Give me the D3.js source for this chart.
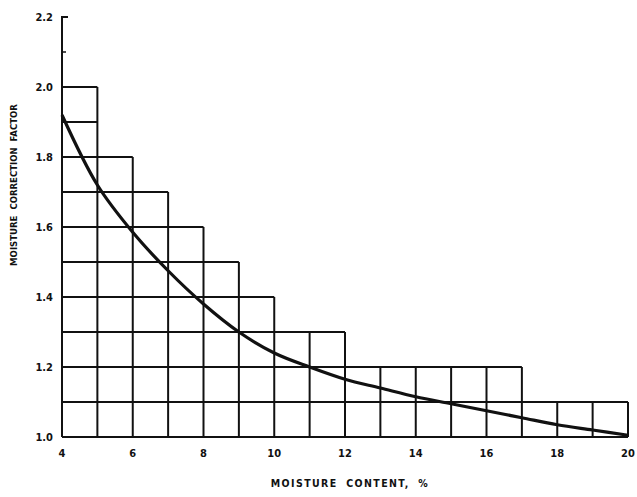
<!DOCTYPE html>
<html>
<head>
<meta charset="utf-8">
<script src="https://cdn.jsdelivr.net/npm/d3@7"></script>
<style>
  body { margin: 0; background: #fff; }
  text { font-family: "DejaVu Sans Condensed", "DejaVu Sans", sans-serif; font-weight: bold; fill: #111; }
</style>
</head>
<body>
<svg id="chart"></svg>
<script>
// step columns (left edge, top value)
const colStart = [4, 5, 6, 7, 8, 9, 10, 11, 12, 13, 14, 15, 16, 17, 18, 19];
const colTop = [2.0, 1.8, 1.7, 1.6, 1.5, 1.4, 1.3, 1.3, 1.2, 1.2, 1.2, 1.2, 1.2, 1.1, 1.1, 1.1];

// correction factor curve
const curveX = [4, 5, 6, 7, 8, 9, 10, 11, 12, 13, 14, 15, 16, 17, 18, 19, 20];
const curveY = [1.92, 1.72, 1.585, 1.475, 1.38, 1.30, 1.24, 1.20, 1.165, 1.14, 1.115, 1.095, 1.075, 1.055, 1.035, 1.02, 1.005];

const xTicks = [4, 6, 8, 10, 12, 14, 16, 18, 20];
const yTicks = [1.0, 1.2, 1.4, 1.6, 1.8, 2.0, 2.2];
const gridLevels = [1.0, 1.1, 1.2, 1.3, 1.4, 1.5, 1.6, 1.7, 1.8, 1.9, 2.0];

const w = 637, h = 497;
const svg = d3.select("#chart").attr("width", w).attr("height", h);

const x = d3.scaleLinear().domain([4, 20]).range([62, 628]);
const y = d3.scaleLinear().domain([1.0, 2.2]).range([437, 17]);

const g = svg.append("g").attr("stroke", "#111").attr("stroke-width", 2).attr("fill", "none");

// horizontal grid lines, each reaching to the last column tall enough
gridLevels.forEach((L) => {
  let right = 4;
  colStart.forEach((c, i) => {
    if (colTop[i] >= L - 1e-9) right = c + 1;
  });
  g.append("line")
    .attr("x1", x(4)).attr("x2", x(right))
    .attr("y1", y(L)).attr("y2", y(L));
});

// vertical grid lines
for (let v = 5; v <= 20; v++) {
  const left = colTop[colStart.indexOf(v - 1)] || 1.0;
  const right = colTop[colStart.indexOf(v)] || 1.0;
  g.append("line")
    .attr("x1", x(v)).attr("x2", x(v))
    .attr("y1", y(1.0)).attr("y2", y(Math.max(left, right)));
}

// y axis line with top tick
g.append("path")
  .attr("d", `M${x(4)},${y(1.0)}V${y(2.2)}h6`);

g.append("line")
  .attr("x1", x(4)).attr("x2", x(4) + 4)
  .attr("y1", y(2.1)).attr("y2", y(2.1))
  .attr("stroke-width", 1.5);

// curve
const line = d3.line().x((d, i) => x(curveX[i])).y((d) => y(d)).curve(d3.curveCatmullRom);
svg.append("path")
  .datum(curveY)
  .attr("d", line)
  .attr("fill", "none")
  .attr("stroke", "#111")
  .attr("stroke-width", 3.2);

// tick labels
svg.selectAll(".xl")
  .data(xTicks)
  .enter()
  .append("text")
  .attr("class", "xl")
  .attr("x", (d) => x(d))
  .attr("y", 457)
  .attr("text-anchor", "middle")
  .attr("font-size", 11)
  .text((d) => d);

svg.selectAll(".yl")
  .data(yTicks)
  .enter()
  .append("text")
  .attr("class", "yl")
  .attr("x", 53)
  .attr("y", (d) => y(d) + 4)
  .attr("text-anchor", "end")
  .attr("font-size", 11)
  .text((d) => d.toFixed(1));

// axis titles
svg.append("text")
  .attr("x", 350)
  .attr("y", 487)
  .attr("text-anchor", "middle")
  .attr("font-size", 10.5)
  .attr("letter-spacing", 1.4)
  .attr("word-spacing", 4)
  .text("MOISTURE CONTENT, %");

svg.append("text")
  .attr("transform", "translate(17,185) rotate(-90)")
  .attr("text-anchor", "middle")
  .attr("font-size", 9.5)
  .attr("word-spacing", 3)
  .text("MOISTURE CORRECTION FACTOR");
</script>
</body>
</html>
